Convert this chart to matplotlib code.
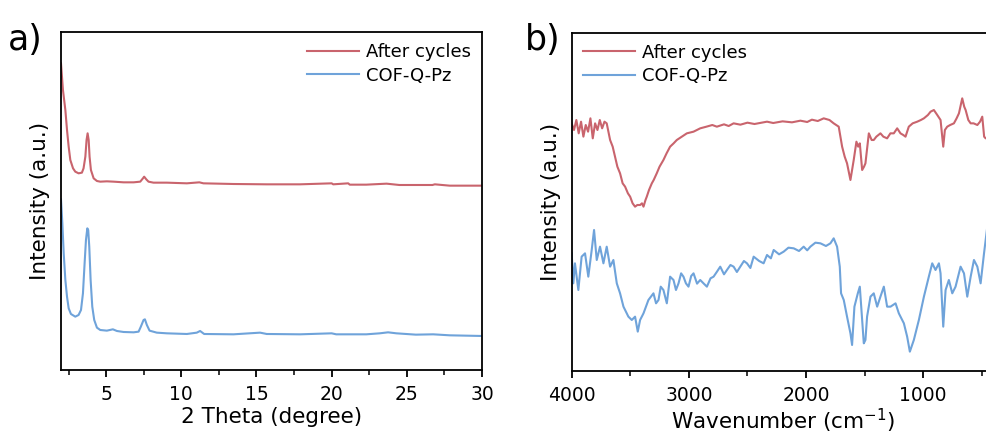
import matplotlib
matplotlib.use('Agg')
import matplotlib.pyplot as plt
from matplotlib.ticker import MultipleLocator
import numpy as np

# ---- XRD data (panel a) ------------------------------------------------------
xrd_theta_after = [2.0, 2.13, 2.29, 2.4, 2.51, 2.62, 2.8, 2.95, 3.17, 3.39, 3.5, 3.62,
                   3.7, 3.77, 3.84, 3.9, 3.99, 4.17, 4.39, 4.61, 5.05, 5.5, 6.16, 6.83,
                   7.27, 7.45, 7.53, 7.67, 7.82, 8.15, 9.04, 10.37, 11.2, 11.47, 13.47,
                   15.68, 17.9, 20.0, 20.1, 21.1, 21.2, 22.3, 23.65, 24.5, 26.7, 26.86,
                   27.85, 30.0]
xrd_int_after = [920, 840, 780, 720, 670, 630, 605, 595, 590, 592, 605, 640,
                 690, 710, 690, 640, 600, 575, 567, 565, 566, 565, 563, 563,
                 565, 575, 580, 572, 565, 562, 562, 560, 563, 560, 558,
                 557, 557, 560, 557, 560, 556, 556, 559, 555, 555, 557,
                 553, 553]

xrd_theta_cof = [2.0, 2.09, 2.18, 2.29, 2.4, 2.51, 2.66, 2.95, 3.17, 3.33, 3.46, 3.57,
                 3.66, 3.75, 3.81, 3.88, 3.97, 4.08, 4.21, 4.39, 4.61, 5.05, 5.45, 5.72,
                 6.16, 6.83, 7.16, 7.31, 7.49, 7.58, 7.71, 7.89, 8.37, 9.04, 10.37, 11.03,
                 11.25, 11.52, 13.47, 15.24, 15.68, 17.9, 20.0, 20.3, 22.3, 23.2, 23.75,
                 24.3, 25.6, 26.75, 27.85, 30.0]
xrd_int_cof = [512, 440, 350, 270, 220, 185, 168, 160, 165, 180, 230, 320,
               390, 425, 420, 370, 270, 190, 150, 127, 120, 118, 122, 117,
               114, 113, 115, 130, 150, 152, 135, 118, 112, 110, 108, 112,
               117, 108, 107, 112, 108, 107, 110, 107, 107, 110, 113,
               110, 106, 107, 104, 102]

# ---- FTIR data (panel b) -----------------------------------------------------
ir_wn_after = [4000, 3980, 3960, 3940, 3920, 3900, 3880, 3860, 3840, 3820, 3800, 3780,
               3760, 3740, 3720, 3701, 3672, 3650, 3630, 3610, 3587, 3565, 3544, 3520,
               3501, 3480, 3459, 3440, 3416, 3400, 3387, 3370, 3359, 3340, 3316, 3300,
               3274, 3250, 3217, 3190, 3160, 3130, 3103, 3060, 3017, 2960, 2903, 2850,
               2800, 2761, 2700, 2660, 2618, 2560, 2500, 2440, 2333, 2280, 2200, 2120,
               2048, 1990, 1950, 1900, 1849, 1800, 1764, 1721,
               1692, 1670, 1650, 1621, 1593, 1570, 1555, 1541, 1521, 1505, 1493, 1464,
               1440, 1422, 1400, 1365, 1340, 1308, 1280, 1251, 1222, 1194, 1170, 1151,
               1123, 1090, 1051, 1020, 994, 960, 937, 909, 880, 852, 829, 815, 795, 770,
               738, 715, 695, 667, 650, 638, 615, 595, 570, 538, 515, 496, 480, 467, 450]
ir_int_after = [743, 723, 753, 713, 748, 703, 738, 718, 758, 698, 743, 723,
                753, 728, 748, 743, 693, 673, 643, 613, 593, 563, 553, 533,
                523, 503, 493, 498, 498, 503, 493, 513, 523, 543, 563, 573,
                593, 613, 633, 653, 673, 683, 693, 703, 713, 718, 728, 733,
                738, 733, 740, 735, 743, 739, 745, 741, 748, 744, 749, 746,
                751, 747, 754, 750, 758, 753, 743, 733,
                673, 643, 623, 573, 633, 688, 673, 683, 603, 613, 623, 713,
                693, 693, 703, 713, 703, 698, 713, 713, 728, 713, 708, 703,
                733, 743, 748, 753, 758, 768, 778, 783, 768, 753, 673, 723, 733, 738,
                743, 758, 773, 818, 793, 783, 753, 743, 743, 738, 748, 763, 703, 698, 700]

ir_wn_cof = [4000, 3986, 3972, 3943, 3915, 3886, 3858, 3829, 3809, 3786, 3758, 3729,
             3701, 3672, 3644, 3615, 3587, 3558, 3516, 3487, 3459, 3436, 3416, 3387,
             3345, 3302, 3280, 3259, 3240, 3217, 3188, 3160, 3131, 3110, 3088, 3066,
             3046, 3025, 3003, 2980, 2960, 2930, 2903,
             2875, 2846, 2815, 2789, 2760, 2732, 2700, 2675, 2645, 2618, 2590, 2561,
             2530, 2504, 2475, 2447, 2400, 2362, 2333, 2300, 2276, 2230, 2191,
             2150, 2105, 2060, 2020, 1990, 1963, 1920, 1877, 1830, 1792, 1764, 1735,
             1712, 1701, 1678, 1650, 1621,
             1607, 1587, 1558, 1541, 1521, 1507, 1493, 1479, 1450, 1422, 1393, 1365,
             1336, 1308, 1279, 1236, 1208, 1165, 1137, 1114, 1080, 1037, 994, 952,
             923, 895, 866, 852, 829, 809, 781, 752, 724, 681, 652, 624, 595, 567,
             538, 510, 481, 453]
ir_int_cof = [353, 263, 323, 243, 343, 353, 283, 363, 423, 333, 373, 323,
              373, 313, 333, 263, 233, 193, 163, 153, 163, 118, 153, 173,
              213, 233, 203, 213, 253, 243, 203, 283, 273, 243, 263, 293,
              283, 263, 253, 285, 293, 262, 273,
              263, 253, 278, 283, 298, 313, 290, 303, 318, 313, 297, 313,
              330, 323, 309, 343, 330, 323, 348, 338, 363, 350, 358,
              370, 368, 360, 373, 362, 373, 385, 383, 375, 383, 398, 373,
              313, 233, 213, 163, 113,
              78, 193, 233, 253, 153, 83, 93, 163, 223, 233, 193, 223,
              253, 193, 193, 203, 173, 143, 103, 58, 93, 153, 223, 283,
              323, 303, 323, 293, 133, 243, 273, 233, 253, 313, 293, 223, 283, 333,
              313, 263, 353, 433]

RED = '#c9646d'
BLUE = '#6fa3da'

plt.rcParams['font.family'] = ['DejaVu Sans']

fig = plt.figure(figsize=(9.87, 4.34), dpi=100)
ax1 = fig.add_axes([0.0618, 0.1475, 0.4266, 0.778])
ax2 = fig.add_axes([0.5792, 0.1452, 0.4274, 0.7795])

# panel a ---------------------------------------------------------------------
ax1.plot(xrd_theta_after, xrd_int_after, color=RED, lw=1.5, label='After cycles')
ax1.plot(xrd_theta_cof, xrd_int_cof, color=BLUE, lw=1.5, label='COF-Q-Pz')
ax1.set_xlim(2, 30)
ax1.set_ylim(0, 1013)
ax1.xaxis.set_major_locator(MultipleLocator(5))
ax1.xaxis.set_minor_locator(MultipleLocator(2.5))
ax1.set_xlabel('2 Theta (degree)', fontsize=15.5, labelpad=2)
ax1.set_ylabel('Intensity (a.u.)', fontsize=15.5, labelpad=8)
ax1.legend(loc='upper right', frameon=False, fontsize=13, handlelength=2.9,
           borderaxespad=0.2, labelspacing=0.3, handletextpad=0.4)
fig.text(0.008, 0.885, 'a)', fontsize=25)

# panel b ---------------------------------------------------------------------
ax2.plot(ir_wn_after, ir_int_after, color=RED, lw=1.5, label='After cycles')
ax2.plot(ir_wn_cof, ir_int_cof, color=BLUE, lw=1.5, label='COF-Q-Pz')
ax2.set_xlim(4000, 400)
ax2.set_ylim(0, 1015)
ax2.xaxis.set_major_locator(MultipleLocator(1000))
ax2.xaxis.set_minor_locator(MultipleLocator(500))
ax2.set_xlabel('Wavenumber (cm$^{-1}$)', fontsize=15.5, labelpad=1)
ax2.set_ylabel('Intensity (a.u.)', fontsize=15.5, labelpad=8)
ax2.legend(loc='upper left', frameon=False, fontsize=13, handlelength=2.9,
           borderaxespad=0.2, labelspacing=0.3, handletextpad=0.4)
fig.text(0.532, 0.885, 'b)', fontsize=25)

for ax in (ax1, ax2):
    ax.set_yticks([])
    for s in ax.spines.values():
        s.set_linewidth(1.3)
    ax.tick_params(axis='x', which='major', direction='out', length=5, width=1.3,
                   labelsize=13.5, pad=6)
    ax.tick_params(axis='x', which='minor', direction='out', length=3.5, width=1.1)

fig.savefig('out.png', dpi=100)
